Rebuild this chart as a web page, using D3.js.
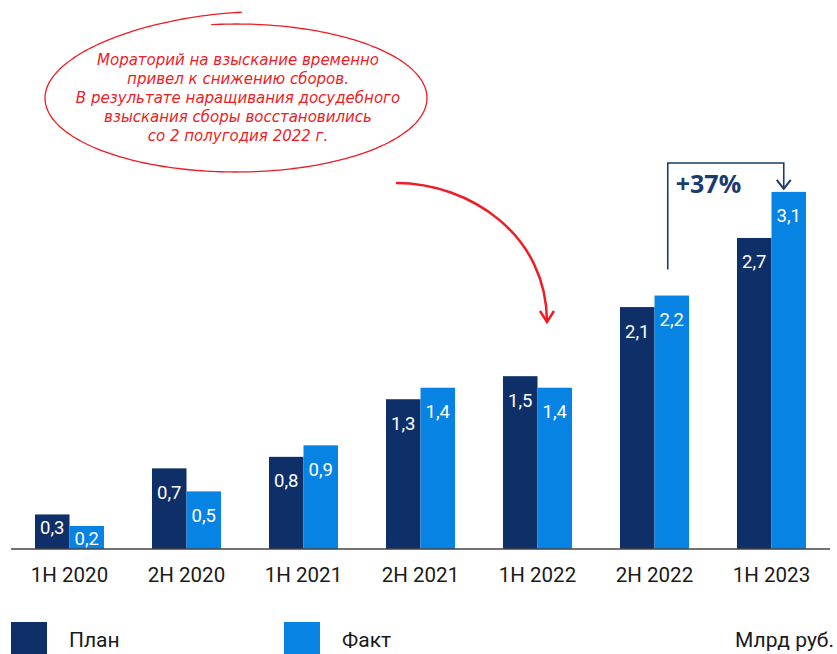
<!DOCTYPE html>
<html>
<head>
<meta charset="utf-8">
<script src="https://cdn.jsdelivr.net/npm/d3@7"></script>
<style>
  body { margin: 0; background: #fff; }
  svg { display: block; font-family: Roboto, "Noto Sans", sans-serif; }
</style>
</head>
<body>
<svg id="chart" width="837" height="654"></svg>
<script>
// Data
const categories = ["1H 2020", "2H 2020", "1H 2021", "2H 2021", "1H 2022", "2H 2022", "1H 2023"];
const planValues = [0.3, 0.7, 0.8, 1.3, 1.5, 2.1, 2.7];
const factValues = [0.2, 0.5, 0.9, 1.4, 1.4, 2.2, 3.1];
const seriesNames = ["План", "Факт"];
const noteLines = [
  "Мораторий на взыскание временно",
  "привел к снижению сборов.",
  "В результате наращивания досудебного",
  "взыскания сборы восстановились",
  "со 2 полугодия 2022 г."
];
const growthLabel = "+37%";
const unitLabel = "Млрд руб.";

const planColor = "#0e2f68";
const factColor = "#0784e3";
const navy = "#1b3a70";
const red = "#ee1c25";

const baseY = 549;

const svg = d3.select("#chart");

const x0 = d3.scaleBand()
  .domain(categories)
  .range([11, 830])
  .paddingInner(0.41)
  .paddingOuter(0.205);

const x1 = d3.scaleBand()
  .domain(["plan", "fact"])
  .range([0, x0.bandwidth()]);

const y = d3.scaleLinear()
  .domain([0, 3.5])
  .range([baseY, baseY - 3.5 * 115.2]);

const rows = categories.map((c, i) => ({ cat: c, plan: planValues[i], fact: factValues[i] }));

// Bars
const groups = svg.append("g")
  .selectAll("g")
  .data(rows)
  .join("g")
  .attr("transform", d => `translate(${x0(d.cat)},0)`);

groups.selectAll("rect")
  .data(d => [{ key: "plan", v: d.plan }, { key: "fact", v: d.fact }])
  .join("rect")
  .attr("x", d => x1(d.key))
  .attr("y", d => y(d.v))
  .attr("width", x1.bandwidth())
  .attr("height", d => baseY - y(d.v))
  .attr("fill", d => d.key === "plan" ? planColor : factColor);

groups.selectAll("text")
  .data(d => [{ key: "plan", v: d.plan }, { key: "fact", v: d.fact }])
  .join("text")
  .attr("x", d => x1(d.key) + x1.bandwidth() / 2)
  .attr("y", d => {
    const h = baseY - y(d.v);
    return y(d.v) + (h > 50 ? 24 : 13);
  })
  .attr("dy", "0.35em")
  .attr("text-anchor", "middle")
  .attr("fill", "#fff")
  .attr("font-size", 18.5)
  .text(d => d3.format(".1f")(d.v).replace(".", ","));

// X axis
const xAxis = svg.append("g")
  .attr("transform", `translate(0,${baseY})`)
  .call(d3.axisBottom(x0).tickSize(0).tickPadding(18));
xAxis.select(".domain").attr("stroke", "#444").attr("stroke-width", 1.5).attr("d", "M11,0H830");
xAxis.selectAll("text")
  .attr("font-size", 20.5)
  .attr("font-family", "Roboto, sans-serif")
  .attr("fill", "#1a1a1a");

// Growth bracket
const bx1 = x0("2H 2022") + x1("fact") + x1.bandwidth() / 2 - 4;
const bx2 = x0("1H 2023") + x1("fact") + x1.bandwidth() / 2 - 5;
const bTop = 163;
const bBottom = y(factValues[5]) - 26;
const bTip = y(factValues[6]) - 3;
svg.append("path")
  .attr("d", `M${bx1},${bBottom}V${bTop}H${bx2}V${bTip}`)
  .attr("fill", "none")
  .attr("stroke", navy)
  .attr("stroke-width", 1.6);
svg.append("path")
  .attr("d", `M${bx2 - 7},${bTip - 9}L${bx2},${bTip}L${bx2 + 7},${bTip - 9}`)
  .attr("fill", "none")
  .attr("stroke", navy)
  .attr("stroke-width", 2);
svg.append("text")
  .attr("x", bx1 + 8)
  .attr("y", 184)
  .attr("dy", "0.35em")
  .attr("font-size", 25)
  .attr("font-family", "'Open Sans', sans-serif")
  .attr("font-weight", "bold")
  .attr("fill", navy)
  .text(growthLabel);

// Note ellipse (hand-drawn look: starts above the top, loops round, overlaps)
const cx = 236, cy = 98, rx = 191, ry = 74;
const start = -Math.PI / 2 + 0.03;
const sweep = 2 * Math.PI + 0.16;
const pts = d3.range(0, 1.0001, 0.004).map(t => {
  const a = start - t * sweep;
  const k = t < 0.22 ? 1 + 0.16 * Math.pow(1 - t / 0.22, 1.5) : 1;
  return [cx + rx * (1 + (k - 1) * 0.1) * Math.cos(a), cy + ry * k * Math.sin(a)];
});
svg.append("path")
  .attr("d", d3.line().curve(d3.curveBasis)(pts))
  .attr("fill", "none")
  .attr("stroke", red)
  .attr("stroke-width", 1.3);

svg.append("g")
  .selectAll("text")
  .data(noteLines)
  .join("text")
  .attr("x", 238)
  .attr("y", (d, i) => 60 + i * 19)
  .attr("dy", "0.35em")
  .attr("text-anchor", "middle")
  .attr("font-family", "'DejaVu Sans', sans-serif")
  .attr("font-style", "italic")
  .attr("font-size", 15)
  .attr("fill", red)
  .text(d => d);

// Red curved arrow
svg.append("path")
  .attr("d", "M396,183C470,183,547,235,547,322")
  .attr("fill", "none")
  .attr("stroke", red)
  .attr("stroke-width", 2.5);
svg.append("path")
  .attr("d", "M540,311L547,322L554,311")
  .attr("fill", "none")
  .attr("stroke", red)
  .attr("stroke-width", 2.5);

// Legend
const legend = svg.append("g")
  .selectAll("g")
  .data(seriesNames)
  .join("g")
  .attr("transform", (d, i) => `translate(${11 + i * 273},622)`);
legend.append("rect")
  .attr("width", 36)
  .attr("height", 32)
  .attr("fill", (d, i) => i === 0 ? planColor : factColor);
legend.append("text")
  .attr("x", 58)
  .attr("y", 18)
  .attr("dy", "0.35em")
  .attr("font-size", 21)
  .attr("fill", "#1a1a1a")
  .text(d => d);

svg.append("text")
  .attr("x", 834)
  .attr("y", 640)
  .attr("dy", "0.35em")
  .attr("text-anchor", "end")
  .attr("font-size", 21)
  .attr("fill", "#1a1a1a")
  .text(unitLabel);
</script>
</body>
</html>
